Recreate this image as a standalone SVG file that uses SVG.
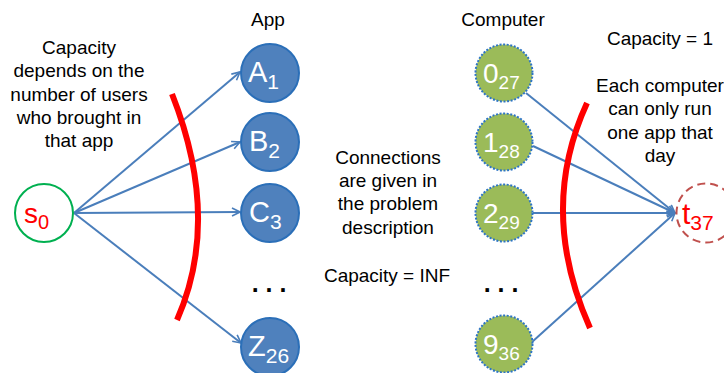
<svg xmlns="http://www.w3.org/2000/svg" width="724" height="373" viewBox="0 0 724 373">
<style>
  .lbl { font-family: "Liberation Sans", Arial, sans-serif; font-size: 19px; fill: #000; text-anchor: middle; }
  .app { fill: #4f81bd; stroke: #2b6fb8; stroke-width: 2; }
  .comp { fill: #9bbb59; stroke: #2e75c6; stroke-width: 2; stroke-dasharray: 2 1.6; }
  .nt { font-family: "Liberation Sans", Arial, sans-serif; fill: #fff; font-size: 29px; }
  .ct { font-family: "Liberation Sans", Arial, sans-serif; fill: #fff; font-size: 28px; }
  .sub { font-size: 21px; }
  .csub { font-size: 19px; }
  .edge { stroke: #4a7ebb; stroke-width: 2; fill: none; marker-end: url(#arr); }
  .cut { stroke: #ff0000; stroke-width: 6; fill: none; }
  .dots { font-family: "Liberation Sans", Arial, sans-serif; font-weight: bold; font-size: 25px; fill: #000; text-anchor: middle; }
</style>
<defs>
  <marker id="arr" viewBox="0 0 10 10" refX="9" refY="5" markerWidth="5" markerHeight="5" orient="auto">
    <path d="M1,1 L9,5 L1,9" fill="none" stroke="#4a7ebb" stroke-width="1.6"/>
  </marker>
</defs>
<rect width="724" height="373" fill="#fff"/>

<g id="connectors">
  <line class="edge" x1="74" y1="213" x2="240" y2="72"/>
  <line class="edge" x1="74" y1="213" x2="240" y2="142"/>
  <line class="edge" x1="74" y1="213" x2="240" y2="212"/>
  <line class="edge" x1="74" y1="213" x2="241" y2="343"/>
  <line class="edge" x1="526" y1="93" x2="675" y2="213"/>
  <line class="edge" x1="533" y1="146" x2="675" y2="213"/>
  <line class="edge" x1="533" y1="213" x2="675" y2="213"/>
  <line class="edge" x1="532" y1="342" x2="675" y2="213"/>
</g>

<g id="cuts">
  <path class="cut" d="M172,94 Q221.5,219 177,320"/>
  <path class="cut" d="M587,103 Q537.5,210.5 590,328"/>
</g>

<g id="s0">
  <circle cx="44" cy="213" r="29" fill="#fff" stroke="#00b050" stroke-width="2"/>
  <text x="24" y="223" font-family="Liberation Sans, Arial, sans-serif" font-size="28" fill="#ff0000">s<tspan font-size="20" dy="6">0</tspan></text>
</g>

<g id="appA">
  <circle class="app" cx="270" cy="73" r="29"/>
  <text class="nt" x="248" y="82">A<tspan class="sub" dy="7">1</tspan></text>
</g>
<g id="appB">
  <circle class="app" cx="270" cy="142" r="29"/>
  <text class="nt" x="249" y="151">B<tspan class="sub" dy="7">2</tspan></text>
</g>
<g id="appC">
  <circle class="app" cx="270" cy="213" r="29"/>
  <text class="nt" x="249" y="222">C<tspan class="sub" dy="7">3</tspan></text>
</g>
<g id="appZ">
  <circle class="app" cx="270" cy="347" r="29"/>
  <text class="nt" x="248" y="356">Z<tspan class="sub" dy="7">26</tspan></text>
</g>

<g id="comp0">
  <circle class="comp" cx="504" cy="73" r="28.5"/>
  <text class="ct" x="483" y="83">0<tspan class="csub" dy="6">27</tspan></text>
</g>
<g id="comp1">
  <circle class="comp" cx="504" cy="142" r="28.5"/>
  <text class="ct" x="483" y="152">1<tspan class="csub" dy="6">28</tspan></text>
</g>
<g id="comp2">
  <circle class="comp" cx="504" cy="213" r="28.5"/>
  <text class="ct" x="483" y="223">2<tspan class="csub" dy="6">29</tspan></text>
</g>
<g id="comp9">
  <circle class="comp" cx="504" cy="344" r="28.5"/>
  <text class="ct" x="483" y="354">9<tspan class="csub" dy="6">36</tspan></text>
</g>

<g id="t37">
  <circle cx="706" cy="213" r="29.5" fill="#fff" stroke="#c0504d" stroke-width="2" stroke-dasharray="8 5"/>
  <text x="682" y="224" font-family="Liberation Sans, Arial, sans-serif" font-size="30" fill="#ff0000">t<tspan font-size="21" dy="6">37</tspan></text>
</g>

<g id="labels">
  <text class="lbl" x="79" y="54">Capacity</text>
  <text class="lbl" x="79" y="77">depends on the</text>
  <text class="lbl" x="79" y="101">number of users</text>
  <text class="lbl" x="79" y="124">who brought in</text>
  <text class="lbl" x="79" y="147">that app</text>
  <text class="lbl" x="268" y="26">App</text>
  <text class="lbl" x="503" y="26">Computer</text>
  <text class="lbl" x="660" y="45">Capacity = 1</text>
  <text class="lbl" x="660" y="92">Each computer</text>
  <text class="lbl" x="660" y="115">can only run</text>
  <text class="lbl" x="660" y="139">one app that</text>
  <text class="lbl" x="660" y="162">day</text>
  <text class="lbl" x="388" y="164">Connections</text>
  <text class="lbl" x="388" y="187">are given in</text>
  <text class="lbl" x="388" y="210">the problem</text>
  <text class="lbl" x="388" y="234">description</text>
  <text class="lbl" x="387" y="282">Capacity = INF</text>
  <text class="dots" x="269" y="292">. . .</text>
  <text class="dots" x="501" y="292">. . .</text>
</g>
</svg>
